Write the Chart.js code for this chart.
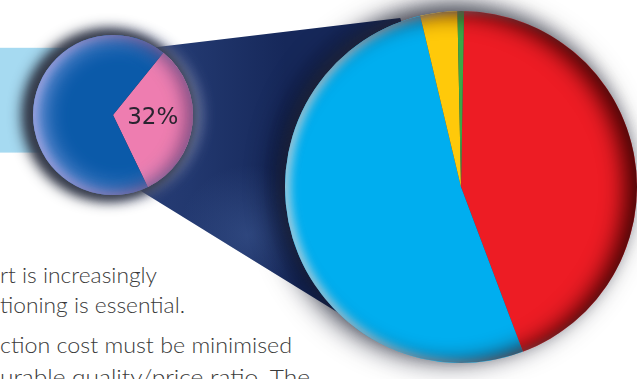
<!DOCTYPE html>
<html><head><meta charset="utf-8">
<script src="https://cdn.jsdelivr.net/npm/chart.js@4.4.1/dist/chart.umd.min.js"></script>
<style>
html,body{margin:0;padding:0;background:#fff;overflow:hidden;width:637px;height:379px}
#wrap{position:relative;width:637px;height:379px;overflow:hidden;background:#fff}
canvas{position:absolute;left:0;top:0}
.t{position:absolute;left:0;font-family:Lato,"Open Sans",sans-serif;font-weight:300;font-size:22px;color:#3a3a3a;white-space:nowrap;line-height:1;transform-origin:0 0}
</style></head>
<body><div id="wrap">
<div id="text"></div>
<canvas id="small" width="637" height="379"></canvas>
<canvas id="big" width="637" height="379"></canvas>
</div>
<script>
// ---- data ----
const smallLabels = ['Share', 'Rest'];
const smallValues = [32, 68];
const smallValueText = ['32%', ''];
const bigLabels = ['Segment A', 'Segment B', 'Segment C', 'Segment D'];
const bigValues = [44, 52, 3.4, 0.6];
const textLines = ['rt is increasingly', 'tioning is essential.', 'ction cost must be minimised', 'urable quality/price ratio. The'];

// ---- styles ----
const smallColors = ['#ee7db0', '#0b5aa9'];
const bigColors = ['#ed1c24', '#00aeef', '#ffc90a', '#3aa846'];
const textBaselines = [282, 312, 352, 384];
const textWidths = [157, 185, 292, 310];

// text
const tdiv = document.getElementById('text');
textLines.forEach((s, i) => {
  const d = document.createElement('div');
  d.className = 't'; d.textContent = s;
  tdiv.appendChild(d);
  const w = d.getBoundingClientRect().width;
  d.style.transform = 'scaleX(' + (textWidths[i] / w) + ')';
  d.style.top = (textBaselines[i] - 18) + 'px';
});

function geom(chart) {
  const a = chart.getDatasetMeta(0).data[0];
  return {x: a.x, y: a.y, r: a.outerRadius};
}
const FAR = 3000;
function innerShadow(ctx, g, color, blur, ox, oy) {
  ctx.save();
  ctx.beginPath(); ctx.arc(g.x, g.y, g.r, 0, Math.PI * 2); ctx.clip();
  ctx.translate(FAR, 0);
  ctx.beginPath();
  ctx.rect(g.x - 3 * g.r, g.y - 3 * g.r, 6 * g.r, 6 * g.r);
  ctx.arc(g.x, g.y, g.r, 0, Math.PI * 2, true);
  ctx.shadowColor = color; ctx.shadowBlur = blur; ctx.shadowOffsetX = ox - FAR; ctx.shadowOffsetY = oy;
  ctx.fillStyle = '#000'; ctx.fill();
  ctx.restore();
}
// shadow only (shape drawn far away, its shadow brought back)
function shadowOnly(ctx, drawShape, color, blur, ox, oy) {
  ctx.save();
  ctx.shadowColor = color; ctx.shadowBlur = blur;
  ctx.shadowOffsetX = ox - FAR; ctx.shadowOffsetY = oy;
  ctx.translate(FAR, 0);
  ctx.beginPath(); drawShape(); ctx.fillStyle = '#000'; ctx.fill();
  ctx.restore();
}

const common = {
  responsive: false, animation: false,
  plugins: {legend: {display: false}, tooltip: {enabled: false}},
  events: []
};

const bigFx = {
  id: 'bigFx',
  beforeDatasetsDraw(chart) {
    const ctx = chart.ctx, g = geom(chart);
    shadowOnly(ctx, () => ctx.arc(g.x, g.y, g.r, 0, Math.PI * 2), 'rgba(5,10,30,0.8)', 28, -10, -3);
    shadowOnly(ctx, () => ctx.arc(g.x, g.y, g.r, 0, Math.PI * 2), 'rgba(60,60,70,0.4)', 16, -4, -7);
  },
  afterDatasetsDraw(chart) {
    const ctx = chart.ctx, g = geom(chart);
    innerShadow(ctx, g, 'rgba(190,238,255,0.9)', 10, 5, 0);
    innerShadow(ctx, g, 'rgba(60,0,0,0.95)', 22, -12, 2);
  }
};

const bigChart = new Chart(document.getElementById('big'), {
  type: 'pie',
  data: {labels: bigLabels, datasets: [{data: bigValues, backgroundColor: bigColors, borderWidth: 0}]},
  options: Object.assign({}, common, {
    rotation: 1.0,
    layout: {padding: {left: 285, right: 0, top: 11, bottom: 16}}
  }),
  plugins: [bigFx]
});

const smallFx = {
  id: 'smallFx',
  beforeDatasetsDraw(chart) {
    const ctx = chart.ctx, g = geom(chart), B = geom(bigChart);
    // light band
    ctx.save();
    ctx.fillStyle = '#a6daf1';
    ctx.fillRect(0, g.y - 0.84 * g.r, g.x, 1.31 * g.r);
    // beam
    const pt = (c, rr, deg) => [c.x + rr * Math.cos(deg * Math.PI / 180), c.y + rr * Math.sin(deg * Math.PI / 180)];
    const p1 = pt(g, g.r, -58), p2 = pt(B, B.r * 1.02, -109.8), p3 = pt(B, B.r * 0.98, 128), p4 = pt(g, g.r * 1.02, 69.4);
    const grad = ctx.createLinearGradient(g.x, 0, B.x - B.r, 0);
    grad.addColorStop(0, '#2a3f78'); grad.addColorStop(0.45, '#22386f'); grad.addColorStop(1, '#16285a');
    ctx.fillStyle = grad;
    ctx.beginPath(); ctx.moveTo(p1[0], p1[1]); ctx.lineTo(p2[0], p2[1]); ctx.lineTo(B.x, B.y);
    ctx.lineTo(p3[0], p3[1]); ctx.lineTo(p4[0], p4[1]); ctx.lineTo(g.x, g.y); ctx.closePath(); ctx.fill();
    // lighter bottom zone of beam
    const rg = ctx.createRadialGradient(g.x + 1.7 * g.r, g.y + 1.5 * g.r, 0, g.x + 1.7 * g.r, g.y + 1.5 * g.r, 70);
    rg.addColorStop(0, 'rgba(70,100,160,0.45)'); rg.addColorStop(1, 'rgba(70,100,160,0)');
    ctx.save(); ctx.clip(); ctx.fillStyle = rg; ctx.fillRect(0, 0, 637, 379); ctx.restore();
    ctx.restore();
    // outer lavender glow to the right, dark halo to the left
    shadowOnly(ctx, () => ctx.arc(g.x, g.y, g.r, 0, Math.PI * 2), 'rgba(160,170,215,0.95)', 16, 6, 0);
    shadowOnly(ctx, () => ctx.arc(g.x, g.y, g.r + 6, 0, Math.PI * 2), 'rgba(40,46,62,1)', 14, -5, 0);
    shadowOnly(ctx, () => ctx.arc(g.x, g.y, g.r + 3, 0, Math.PI * 2), 'rgba(60,66,80,0.7)', 10, -3, 0);
  },
  afterDatasetsDraw(chart) {
    const ctx = chart.ctx, g = geom(chart);
    innerShadow(ctx, g, 'rgba(170,180,240,1)', 26, 6, 0);
    innerShadow(ctx, g, 'rgba(170,180,240,0.8)', 10, 3, 0);
    innerShadow(ctx, g, 'rgba(70,10,60,0.5)', 16, -8, 0);
    // value label
    const meta = chart.getDatasetMeta(0);
    ctx.save();
    ctx.font = '23px "DejaVu Sans"';
    ctx.fillStyle = '#2a2430';
    ctx.textAlign = 'center'; ctx.textBaseline = 'middle';
    meta.data.forEach((a, i) => {
      if (!smallValueText[i]) return;
      const p = a.tooltipPosition();
      ctx.fillText(smallValueText[i], p.x, p.y - 2);
    });
    ctx.restore();
  }
};

const smallChart = new Chart(document.getElementById('small'), {
  type: 'pie',
  data: {labels: smallLabels, datasets: [{data: smallValues, backgroundColor: smallColors, borderWidth: 0}]},
  options: Object.assign({}, common, {
    rotation: 39,
    layout: {padding: {left: 33, right: 444, top: 35, bottom: 184}}
  }),
  plugins: [smallFx]
});
</script>
</body></html>
